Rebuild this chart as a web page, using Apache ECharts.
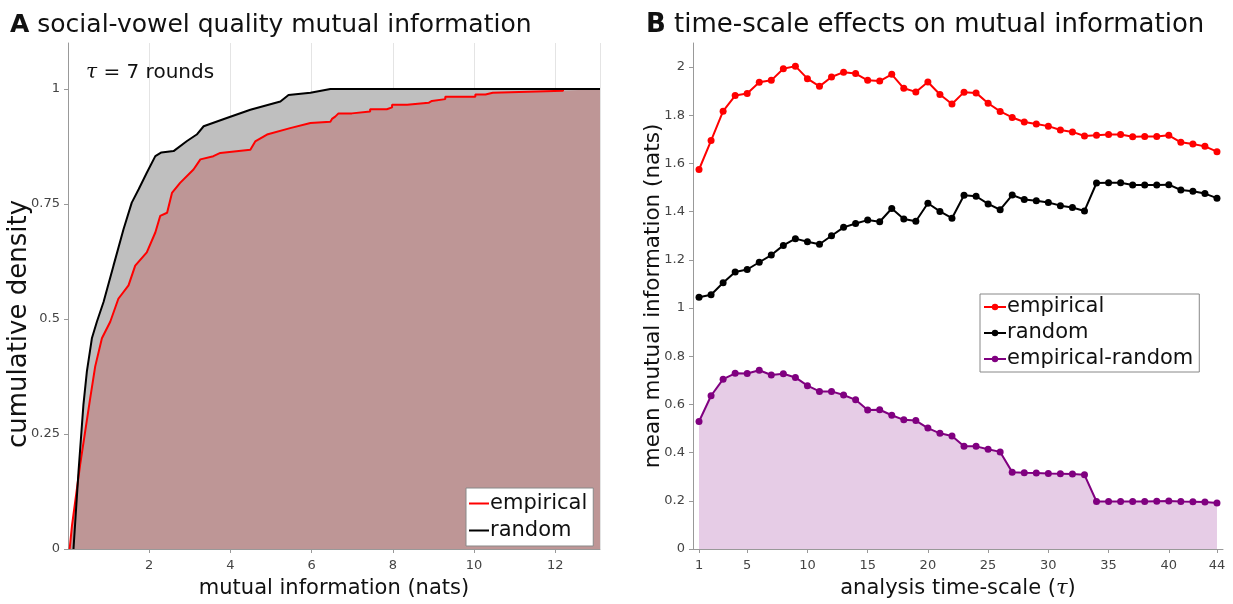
<!DOCTYPE html>
<html lang="en">
<head>
    <meta charset="UTF-8">
    <title>mutual information</title>
    <style>
        html, body {
            margin: 0;
            height: 100%;
            background: #fff;
        }
        #main {
            width: 1233px;
            height: 604px;
        }
    </style>
    <script src="https://cdn.jsdelivr.net/npm/echarts@6/dist/echarts.min.js"></script>
</head>
<body>
    <div id="main"></div>
    <script>
        // panel A: cumulative density of mutual information (nats)
        const randomCdf = [
            [0.135, 0], [0.26, 0.17], [0.38, 0.314], [0.465, 0.386], [0.588, 0.458],
            [0.711, 0.494], [0.875, 0.537], [1.12, 0.616], [1.367, 0.695], [1.57, 0.753],
            [1.74, 0.782], [1.94, 0.818], [2.15, 0.854], [2.3, 0.862], [2.6, 0.865],
            [2.93, 0.887], [3.17, 0.901], [3.34, 0.919], [3.91, 0.937], [4.49, 0.955],
            [5.23, 0.973], [5.43, 0.987], [5.97, 0.992], [6.46, 1], [13.1, 1]
        ]
        const empiricalCdf = [
            [0.04, 0], [0.07, 0], [0.097, 0.05], [0.3, 0.184], [0.547, 0.328],
            [0.67, 0.397], [0.835, 0.458], [1.04, 0.494], [1.24, 0.544], [1.49, 0.573],
            [1.655, 0.616], [1.94, 0.645], [2.15, 0.688], [2.27, 0.724], [2.44, 0.731],
            [2.56, 0.774], [2.76, 0.796], [3.09, 0.825], [3.26, 0.847], [3.58, 0.854],
            [3.75, 0.861], [4.49, 0.868], [4.61, 0.886], [4.9, 0.901], [5.47, 0.915],
            [5.97, 0.926], [6.46, 0.929], [6.5, 0.935], [6.58, 0.94], [6.66, 0.947],
            [6.99, 0.947], [6.99, 0.951], [7.44, 0.951], [7.44, 0.956], [7.85, 0.956],
            [7.85, 0.96], [7.98, 0.96], [7.98, 0.966], [8.35, 0.966], [8.35, 0.97],
            [8.88, 0.97], [8.88, 0.974], [8.96, 0.974], [8.96, 0.978], [9.29, 0.978],
            [9.29, 0.983], [10.03, 0.983], [10.03, 0.988], [10.28, 0.988], [10.28, 0.992],
            [10.46, 0.992], [10.46, 0.996], [12.19, 0.996], [12.19, 1]
        ]
        const xMaxA = 13.1

        // panel B: mean mutual information by analysis time-scale
        const tau = Array.from({ length: 44 }, (_, i) => i + 1)
        const empiricalMean = [
            1.575, 1.695, 1.817, 1.882, 1.890, 1.937, 1.945, 1.993, 2.004, 1.952,
            1.920, 1.959, 1.979, 1.973, 1.945, 1.942, 1.970, 1.912, 1.897, 1.938,
            1.886, 1.847, 1.896, 1.893, 1.850, 1.816, 1.791, 1.772, 1.764, 1.755,
            1.739, 1.731, 1.714, 1.717, 1.720, 1.720, 1.711, 1.712, 1.712, 1.717,
            1.688, 1.681, 1.671, 1.649
        ]
        const randomMean = [
            1.045, 1.055, 1.105, 1.150, 1.160, 1.190, 1.220, 1.260, 1.288, 1.275,
            1.265, 1.300, 1.335, 1.351, 1.365, 1.358, 1.413, 1.370, 1.360, 1.435,
            1.401, 1.373, 1.468, 1.464, 1.432, 1.408, 1.469, 1.450, 1.445, 1.438,
            1.425, 1.417, 1.403, 1.519, 1.520, 1.520, 1.511, 1.511, 1.511, 1.512,
            1.490, 1.485, 1.475, 1.456
        ]
        const diffMean = [
            0.529, 0.636, 0.705, 0.729, 0.728, 0.742, 0.722, 0.727, 0.712, 0.678,
            0.654, 0.654, 0.639, 0.619, 0.577, 0.578, 0.555, 0.536, 0.533, 0.502,
            0.480, 0.469, 0.426, 0.426, 0.414, 0.403, 0.319, 0.316, 0.315, 0.313,
            0.312, 0.311, 0.308, 0.197, 0.197, 0.197, 0.197, 0.197, 0.198, 0.199,
            0.197, 0.196, 0.195, 0.191
        ]
        const tauTicks = [1, 5, 10, 15, 20, 25, 30, 35, 40, 44]

        const FONT = 'DejaVu Sans'
        const pairs = (ys) => ys.map((y, i) => [tau[i], y])

        const chart = echarts.init(document.getElementById('main'))

        const axisLine = { show: true, lineStyle: { color: '#999', width: 1 } }
        const axisTick = { show: true, length: 4, lineStyle: { color: '#999' } }
        const tickLabel = { color: '#444', fontSize: 13, fontFamily: FONT }
        const tauRich = { t: { fontSize: 21, fontStyle: 'italic', fontFamily: 'DejaVu Serif', color: '#111' } }
        const titleStyle = (size) => ({
            fontSize: size, fontWeight: 'normal', color: '#111', fontFamily: FONT,
            rich: { b: { fontSize: size, fontWeight: 'bold', color: '#111', fontFamily: FONT } }
        })
        const legendText = (lh) => ({ fontSize: 21, lineHeight: lh, color: '#111', fontFamily: FONT, padding: [0, 0, 0, -4] })

        const option = {
            animation: false,
            textStyle: { fontFamily: FONT },
            title: [
                {
                    text: '{b|A} social-vowel quality mutual information',
                    left: 5, top: 8,
                    textStyle: titleStyle(25)
                },
                {
                    text: '{b|B} time-scale effects on mutual information',
                    left: 641, top: 7,
                    textStyle: titleStyle(26)
                },
                {
                    text: '{t|τ} = 7 rounds',
                    left: 81, top: 58,
                    textStyle: {
                        fontSize: 20, fontWeight: 'normal', color: '#111', fontFamily: FONT,
                        rich: { t: { fontSize: 20, fontStyle: 'italic', fontFamily: 'DejaVu Serif', color: '#111' } }
                    }
                }
            ],
            legend: [
                {
                    data: ['empirical', 'random'],
                    left: 466, top: 488,
                    orient: 'vertical',
                    backgroundColor: '#fff',
                    borderColor: '#888', borderWidth: 1, borderRadius: 0,
                    padding: [3, 6, 3, 3],
                    itemGap: 2, itemWidth: 20, itemHeight: 2,
                    icon: 'rect',
                    textStyle: legendText(25)
                },
                {
                    data: ['empirical ', 'random ', 'empirical-random'],
                    left: 980, top: 294,
                    orient: 'vertical',
                    backgroundColor: '#fff',
                    borderColor: '#888', borderWidth: 1, borderRadius: 0,
                    padding: [1, 6, 1, 3],
                    itemGap: 2, itemWidth: 22, itemHeight: 8,
                    textStyle: legendText(24)
                }
            ],
            grid: [
                { left: 68, right: 633, top: 43, bottom: 52 },
                { left: 693, right: 10, top: 43, bottom: 52 }
            ],
            xAxis: [
                {
                    type: 'value', gridIndex: 0,
                    min: 0, max: xMaxA, interval: 2,
                    name: 'mutual information (nats)', nameLocation: 'middle', nameGap: 29,
                    nameTextStyle: { color: '#111', fontSize: 21, fontFamily: FONT },
                    axisLine, axisTick,
                    axisLabel: Object.assign({ showMinLabel: false, showMaxLabel: false, margin: 10 }, tickLabel),
                    splitLine: { show: true, lineStyle: { color: '#e4e4e4', width: 1 } }
                },
                {
                    type: 'value', gridIndex: 1,
                    min: 0.5, max: 44.5,
                    name: 'analysis time-scale ({t|τ})', nameLocation: 'middle', nameGap: 29,
                    nameTextStyle: { color: '#111', fontSize: 21, fontFamily: FONT, rich: tauRich },
                    axisLine,
                    axisTick: Object.assign({ customValues: tauTicks }, axisTick),
                    axisLabel: Object.assign({ customValues: tauTicks, margin: 10 }, tickLabel),
                    splitLine: { show: false }
                }
            ],
            yAxis: [
                {
                    type: 'value', gridIndex: 0,
                    min: 0, max: 1.1, interval: 0.25,
                    name: 'cumulative density', nameLocation: 'middle', nameGap: 36,
                    nameMoveOverlap: false,
                    nameTextStyle: { color: '#111', fontSize: 26, fontFamily: FONT, padding: [0, 56, 0, 0] },
                    axisLine, axisTick,
                    axisLabel: Object.assign({ showMaxLabel: false, margin: 8 }, tickLabel),
                    splitLine: { show: false }
                },
                {
                    type: 'value', gridIndex: 1,
                    min: 0, max: 2.1, interval: 0.2,
                    name: 'mean mutual information (nats)', nameLocation: 'middle', nameGap: 29,
                    nameMoveOverlap: false,
                    nameTextStyle: { color: '#111', fontSize: 21.5, fontFamily: FONT },
                    axisLine, axisTick,
                    axisLabel: Object.assign({ showMaxLabel: false, margin: 8 }, tickLabel),
                    splitLine: { show: false }
                }
            ],
            series: [
                {
                    name: 'random-fill', type: 'line', xAxisIndex: 0, yAxisIndex: 0,
                    data: randomCdf, symbol: 'none', silent: true,
                    lineStyle: { width: 0 },
                    areaStyle: { color: '#bfbfbf', opacity: 1 }
                },
                {
                    name: 'empirical-fill', type: 'line', xAxisIndex: 0, yAxisIndex: 0,
                    data: empiricalCdf.concat([[xMaxA, 1]]), symbol: 'none', silent: true,
                    lineStyle: { width: 0 },
                    areaStyle: { color: '#be9696', opacity: 1 }
                },
                {
                    name: 'empirical', type: 'line', xAxisIndex: 0, yAxisIndex: 0,
                    data: empiricalCdf, symbol: 'none',
                    itemStyle: { color: '#ff0000' },
                    lineStyle: { color: '#ff0000', width: 2 }
                },
                {
                    name: 'random', type: 'line', xAxisIndex: 0, yAxisIndex: 0,
                    data: randomCdf, symbol: 'none',
                    itemStyle: { color: '#000' },
                    lineStyle: { color: '#000', width: 2 }
                },
                {
                    name: 'empirical ', type: 'line', xAxisIndex: 1, yAxisIndex: 1,
                    data: pairs(empiricalMean), symbol: 'circle', symbolSize: 7,
                    itemStyle: { color: '#ff0000' },
                    lineStyle: { color: '#ff0000', width: 2 }
                },
                {
                    name: 'random ', type: 'line', xAxisIndex: 1, yAxisIndex: 1,
                    data: pairs(randomMean), symbol: 'circle', symbolSize: 7,
                    itemStyle: { color: '#000' },
                    lineStyle: { color: '#000', width: 2 }
                },
                {
                    name: 'empirical-random', type: 'line', xAxisIndex: 1, yAxisIndex: 1,
                    data: pairs(diffMean), symbol: 'circle', symbolSize: 7,
                    itemStyle: { color: '#800080' },
                    lineStyle: { color: '#800080', width: 2 },
                    areaStyle: { color: '#e6cce6', opacity: 1 }
                }
            ]
        }

        chart.setOption(option)
    </script>
</body>
</html>
